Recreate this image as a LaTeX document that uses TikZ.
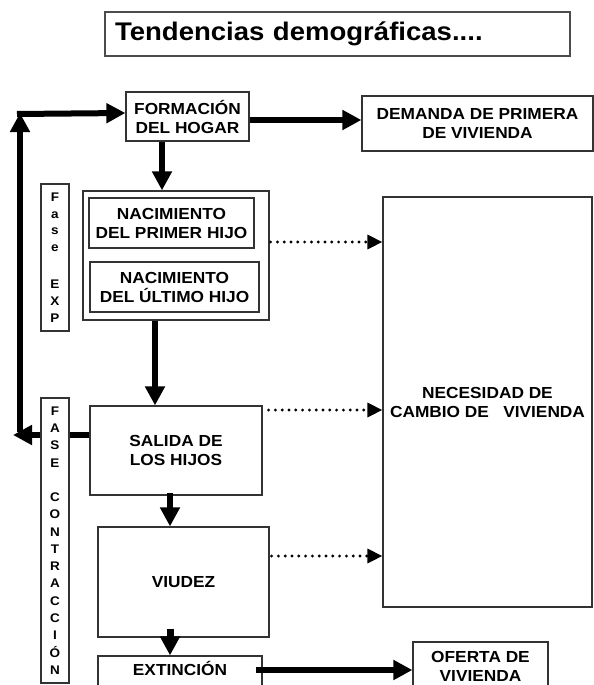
\documentclass[tikz,border=0pt]{standalone}
\usepackage{fontspec}
\setmainfont{Liberation Sans}[FakeStretch=1.08]
\usetikzlibrary{arrows.meta}

\tikzset{
  caja/.style={draw=black!80, line width=1.2pt, inner sep=0pt, align=center,
    font=\bfseries\fontsize{16}{19}\selectfont},
  fase/.style={caja, minimum width=28, font=\bfseries\fontsize{12.5}{16.6}\selectfont},
  grueso/.style={line width=6pt, -{Triangle[length=19pt,width=19pt]}},
  puntos/.style={line width=3.2pt, line cap=round, dash pattern=on 0pt off 6.8pt,
    -{Triangle[length=15pt,width=14pt]}}
}

\begin{document}
\begin{tikzpicture}[x=1pt,y=-1pt]
  \clip (0,0) rectangle (594,685);
  \node[caja, draw=black!70, minimum height=44, text width=445, inner xsep=10, align=left,
    font=\bfseries\fontsize{25.5}{30}\selectfont] (titulo) at (337.5,34) {Tendencias demográficas....};
  % ciclo de vida del hogar
  \node[caja, minimum width=123, minimum height=49] (formacion) at (187.5,116.5) {FORMACIÓN\\DEL HOGAR};
  \node[caja, minimum width=231, minimum height=55] (demanda) at (477.5,123.5) {DEMANDA DE PRIMERA\\DE VIVIENDA};
  \node[caja, minimum width=186, minimum height=129] (grupo) at (176,255.5) {};
  \node[caja, minimum width=165, minimum height=50] (nac1) at (171.5,223) {NACIMIENTO\\DEL PRIMER HIJO};
  \node[caja, minimum width=169, minimum height=50] (nac2) at (174.5,287) {NACIMIENTO\\DEL ÚLTIMO HIJO};
  \node[caja, minimum width=172, minimum height=89] (salida) at (176,450.5) {SALIDA DE\\LOS HIJOS};
  \node[caja, minimum width=171, minimum height=110] (viudez) at (183.5,582) {VIUDEZ};
  \node[caja, minimum width=164, minimum height=34, text depth=9pt] (extincion) at (180,673) {EXTINCIÓN};
  \node[caja, minimum width=135, minimum height=48] (oferta) at (480.5,666) {OFERTA DE\\VIVIENDA};
  \node[caja, minimum width=209, minimum height=410] (necesidad) at (487.5,402) {NECESIDAD DE\\CAMBIO DE~~~VIVIENDA};
  % fases
  \node[fase, minimum height=147] (faseexp) at (55,257.5) {F\\a\\s\\e\\[21pt]E\\X\\P};
  \node[fase, minimum height=285, font=\bfseries\fontsize{12.5}{17.3}\selectfont] (fasecon) at (55,540.5)
    {F\\A\\S\\E\\[17pt]C\\O\\N\\T\\R\\A\\C\\C\\I\\Ó\\N};
  \coordinate (esq) at (20,113);
  \coordinate (baja) at (20,432);
  \coordinate (punta) at (13,435);

  \draw[grueso] ([yshift=-3.5]formacion.east) -- ([yshift=-3.5]formacion.east -| demanda.west);
  \draw[grueso] ([xshift=-25.5]formacion.south) -- ([xshift=-25.5]formacion.south |- grupo.north);
  \draw[grueso] ([xshift=-21]grupo.south) -- ([xshift=-21]grupo.south |- salida.north);
  \draw[grueso] ([xshift=-6,yshift=3]salida.south) -- ([xshift=-6]salida.south |- viudez.north);
  \draw[grueso, line width=7pt] ([xshift=-13.5,yshift=9]viudez.south) -- ([xshift=-13.5]viudez.south |- extincion.north);
  \draw[grueso] ([xshift=-7,yshift=3]extincion.east) -- ([yshift=3]extincion.east -| oferta.west);
  % vuelta al inicio
  \draw[line width=6pt] ([yshift=15.5]salida.west) -- ([yshift=15.5]salida.west -| fasecon.east);
  \draw[grueso] ([yshift=15.5]salida.west -| fasecon.west) -- (punta);
  \draw[grueso] (baja) -- (esq);
  \draw[grueso] ([xshift=-3,yshift=-1]esq) -- (esq -| formacion.west);
  % cambio de vivienda
  \draw[puntos] ([xshift=1,yshift=13.5]grupo.east) -- ([yshift=13.5]grupo.east -| necesidad.west);
  \draw[puntos] ([xshift=6,yshift=40.5]salida.east) -- ([yshift=40.5]salida.east -| necesidad.west);
  \draw[puntos] ([xshift=2,yshift=26]viudez.east) -- ([yshift=26]viudez.east -| necesidad.west);
\end{tikzpicture}
\end{document}
